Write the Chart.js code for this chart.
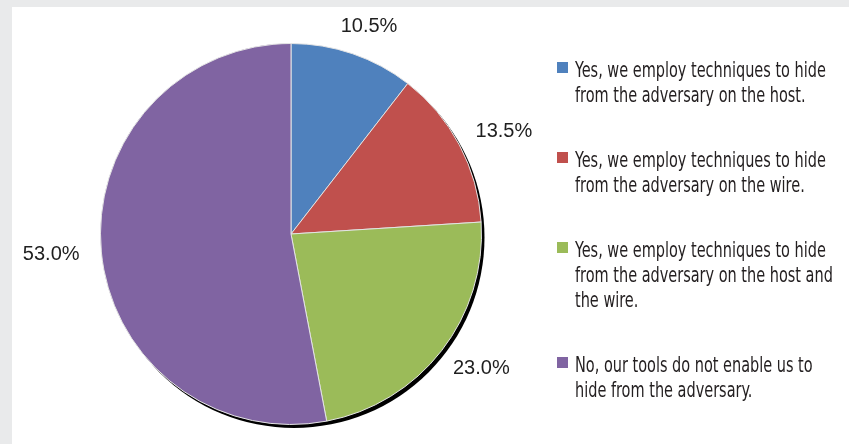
<!DOCTYPE html>
<html>
<head>
<meta charset="utf-8">
<script src="https://cdn.jsdelivr.net/npm/chart.js@4/dist/chart.umd.min.js"></script>
<style>
  html, body { margin: 0; padding: 0; }
  body { width: 849px; height: 444px; background: #e9eaeb; position: relative; overflow: hidden; }
  #panel { position: absolute; left: 12px; top: 7px; right: 0; bottom: 0; background: #fff; }
  #chartBox { position: absolute; left: 0; top: 0; width: 849px; height: 444px; }
  #legend {
    position: absolute; left: 557px; top: 57px;
    font-family: "Liberation Sans Narrow", "DejaVu Sans Condensed", sans-serif;
    font-size: 22px; line-height: 25px; color: #231f20;
  }
  #legend .item { position: relative; margin-bottom: 40px; }
  #legend .box { position: absolute; left: 0; top: 5px; width: 11px; height: 11px; }
  #legend .text { margin-left: 18px; white-space: nowrap; transform-origin: left top; }
</style>
</head>
<body>
<div id="panel"></div>
<div id="chartBox"><canvas id="chart"></canvas></div>
<div id="legend"></div>

<script>
// ================= DATA =================
const categories = [
  ["Yes, we employ techniques to hide", "from the adversary on the host."],
  ["Yes, we employ techniques to hide", "from the adversary on the wire."],
  ["Yes, we employ techniques to hide", "from the adversary on the host and", "the wire."],
  ["No, our tools do not enable us to", "hide from the adversary."]
];
const shares = [10.5, 13.5, 23.0, 53.0];
const colors = ["#4f81bd", "#c0504d", "#9bbb59", "#8064a2"];

// ================= LEGEND (html) =================
// the legend face is a condensed one; squeeze the text so the
// longest first line is about 251px wide
const LEGEND_LINE_WIDTH = 251;
const legendEl = document.getElementById("legend");
const measure = document.createElement("canvas").getContext("2d");
measure.font = "22px 'Liberation Sans Narrow', 'DejaVu Sans Condensed', sans-serif";
const squeeze = LEGEND_LINE_WIDTH / measure.measureText(categories[0][0]).width;

categories.forEach((lines, i) => {
  const item = document.createElement("div");
  item.className = "item";
  const box = document.createElement("span");
  box.className = "box";
  box.style.background = colors[i];
  const text = document.createElement("div");
  text.className = "text";
  text.style.transform = "scaleX(" + squeeze.toFixed(3) + ")";
  text.innerHTML = lines.join("<br>");
  item.appendChild(box);
  item.appendChild(text);
  legendEl.appendChild(item);
});

// ================= PLUGINS =================
// dark drop shadow behind the whole pie (offset down-right)
const pieShadow = {
  id: "pieShadow",
  beforeDatasetsDraw(chart) {
    const arc = chart.getDatasetMeta(0).data[0];
    if (!arc) return;
    const { x, y, outerRadius } = arc.getProps(["x", "y", "outerRadius"], true);
    const ctx = chart.ctx;
    ctx.save();
    ctx.fillStyle = "#000";
    ctx.beginPath();
    ctx.arc(x + 3, y + 3.5, outerRadius, 0, Math.PI * 2);
    ctx.fill();
    ctx.restore();
  }
};

// percentage labels outside each slice
const outsideLabels = {
  id: "outsideLabels",
  afterDatasetsDraw(chart) {
    const ctx = chart.ctx;
    const meta = chart.getDatasetMeta(0);
    const values = chart.data.datasets[0].data;
    ctx.save();
    ctx.font = "20px 'Liberation Sans', Arial, sans-serif";
    ctx.fillStyle = "#1f1f1f";
    ctx.textAlign = "center";
    ctx.textBaseline = "middle";
    meta.data.forEach((arc, i) => {
      const p = arc.getProps(["x", "y", "startAngle", "endAngle", "outerRadius"], true);
      const mid = (p.startAngle + p.endAngle) / 2;
      const cos = Math.cos(mid), sin = Math.sin(mid);
      const txt = values[i].toFixed(1) + "%";
      const w = ctx.measureText(txt).width;
      const h = 14;
      const d = p.outerRadius + 22;
      const cx = p.x + d * cos + cos * w / 2;
      const cy = p.y + d * sin + sin * h / 2;
      ctx.fillText(txt, cx, cy);
    });
    ctx.restore();
  }
};

// ================= CHART =================
const ctx = document.getElementById("chart").getContext("2d");

const pieChart = new Chart(ctx, {
  type: "pie",
  data: {
    labels: categories,
    datasets: [{
      data: shares,
      backgroundColor: colors,
      borderColor: "#e4e4e4",
      borderWidth: 1
    }]
  },
  options: {
    responsive: true,
    maintainAspectRatio: false,
    animation: false,
    layout: {
      padding: { left: 100, top: 43, right: 367, bottom: 19 }
    },
    plugins: {
      legend: { display: false },
      tooltip: { enabled: false }
    }
  },
  plugins: [pieShadow, outsideLabels]
});
</script>
</body>
</html>
